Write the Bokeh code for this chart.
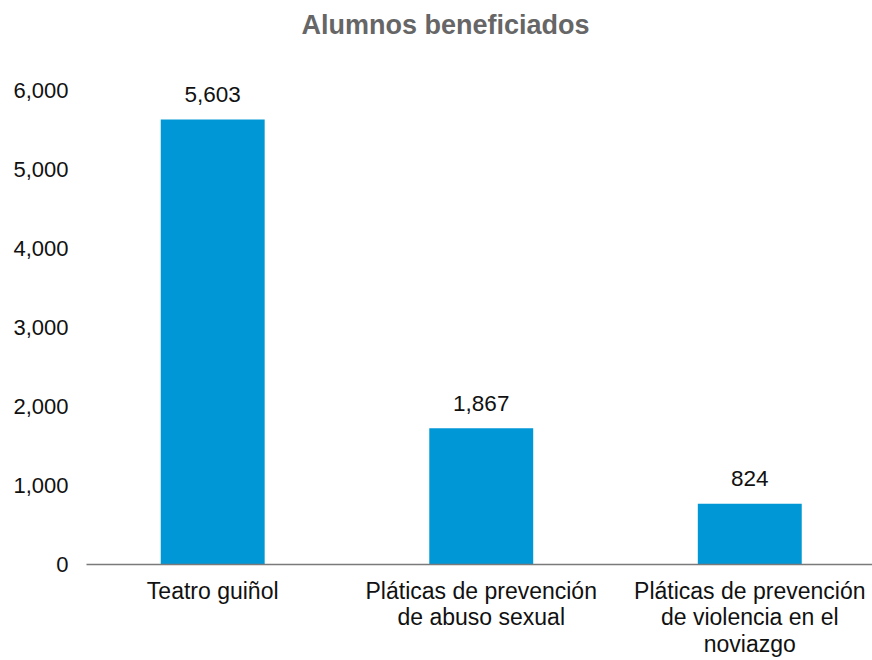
import numpy as np
from bokeh.plotting import figure
from bokeh.models import ColumnDataSource, Range1d, FixedTicker, NumeralTickFormatter
from bokeh.core.properties import value
from bokeh.embed import file_html
from bokeh.resources import INLINE

# ---- data ----
categories = ["Teatro guiñol",
              "Pláticas de prevención\nde abuso sexual",
              "Pláticas de prevención\nde violencia en el\nnoviazgo"]
bar_values = [5630, 1725, 768]          # bar heights as drawn in the picture
value_labels = ["5,603", "1,867", "824"]  # printed labels
y_ticks = [0, 1000, 2000, 3000, 4000, 5000, 6000]

x = (np.arange(len(categories)) + 0.5).tolist()
src = ColumnDataSource(dict(x=x, top=bar_values, lab=value_labels))

FONT = "Liberation Sans"

p = figure(width=872, height=660, output_backend="svg", toolbar_location=None,
           x_range=Range1d(0.03, 2.957), y_range=Range1d(0, 6503),
           min_border_left=86, min_border_right=0, min_border_top=50,
           min_border_bottom=90)

p.title.text = "Alumnos beneficiados"
p.title.text_font = FONT
p.title.text_font_style = "bold"
p.title.text_font_size = "27px"
p.title.text_color = "#666666"
p.title.align = "left"
p.title.offset = 215
p.title.vertical_align = "top"
p.title.standoff = 18

p.vbar(x="x", top="top", width=0.387, bottom=0, source=src,
       fill_color="#0097D6", line_color=None)
p.text(x="x", y="top", text="lab", source=src, y_offset=-25,
       text_align="center", text_baseline="middle",
       text_font=value(FONT), text_font_size="22.5px", text_color="#111111")

# axes
p.xaxis.ticker = FixedTicker(ticks=x)
p.xaxis.major_label_overrides = {xx: c for xx, c in zip(x, categories)}
p.xaxis.major_tick_line_color = None
p.xaxis.minor_tick_line_color = None
p.xaxis.axis_line_color = "#7a7a7a"
p.xaxis.axis_line_width = 1.5
p.xaxis.major_label_text_font = FONT
p.xaxis.major_label_text_font_size = "23px"
p.xaxis.major_label_text_color = "#111111"
p.xaxis.major_label_standoff = 7
p.xaxis.major_label_text_line_height = 1.03

p.yaxis.ticker = FixedTicker(ticks=y_ticks)
p.yaxis.formatter = NumeralTickFormatter(format="0,0")
p.yaxis.axis_line_color = None
p.yaxis.major_tick_line_color = None
p.yaxis.minor_tick_line_color = None
p.yaxis.major_label_text_font = FONT
p.yaxis.major_label_text_font_size = "22px"
p.yaxis.major_label_text_color = "#111111"
p.yaxis.major_label_standoff = 12

p.xgrid.grid_line_color = None
p.ygrid.grid_line_color = None
p.outline_line_color = None

open("out.html", "w").write(file_html(p, INLINE))
